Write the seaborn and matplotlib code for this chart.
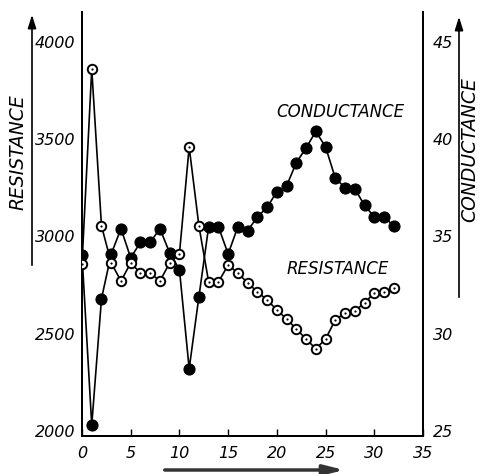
import matplotlib
matplotlib.use("Agg")
import matplotlib.pyplot as plt
import seaborn as sns
import pandas as pd

sns.set_theme(style="white")
plt.rcParams['font.family'] = ['DejaVu Sans']
plt.rcParams['font.style'] = 'italic'
plt.rcParams['text.color'] = 'black'
plt.rcParams['xtick.color'] = 'black'
plt.rcParams['ytick.color'] = 'black'
plt.rcParams['xtick.labelcolor'] = 'black'
plt.rcParams['ytick.labelcolor'] = 'black'

x_vals = list(range(0, 33))
resistance = [2859, 3861, 3054, 2864, 2771, 2864, 2812, 2812, 2771, 2864, 2910,
              3460, 3054, 2766, 2766, 2853, 2812, 2761, 2715, 2674, 2622, 2576,
              2524, 2473, 2422, 2473, 2571, 2607, 2617, 2658, 2710, 2715, 2735]
conductance = [34.05, 25.3, 31.8, 34.1, 35.4, 33.9, 34.7, 34.7, 35.4, 34.15, 33.3,
               28.2, 31.9, 35.5, 35.5, 34.1, 35.5, 35.3, 36.0, 36.5, 37.3, 37.6,
               38.8, 39.55, 40.4, 39.6, 38.0, 37.5, 37.45, 36.6, 36.0, 36.0, 35.55]
x_ticks = [0, 5, 10, 15, 20, 25, 30, 35]
r_ticks = [2000, 2500, 3000, 3500, 4000]
c_ticks = [25, 30, 35, 40, 45]

df = pd.DataFrame({"x": x_vals, "resistance": resistance, "conductance": conductance})

fig = plt.figure(figsize=(4.88, 4.74), dpi=100)
ax = fig.add_axes([82/488, 38/474, (423-82)/488, (436-12)/474])
ax2 = ax.twinx()

# conductance (filled)
sns.lineplot(data=df, x="x", y="conductance", ax=ax2, color="black", lw=1.2,
             marker="o", markersize=8, markerfacecolor="black",
             markeredgecolor="black", sort=False, zorder=3)
# resistance (open with dot)
sns.lineplot(data=df, x="x", y="resistance", ax=ax, color="black", lw=1.2,
             marker="o", markersize=6.8, markerfacecolor="white",
             markeredgecolor="black", markeredgewidth=1.4, sort=False, zorder=3)
sns.scatterplot(data=df, x="x", y="resistance", ax=ax, color="black", s=2.5,
                linewidth=0, zorder=4)

ax.set_zorder(ax2.get_zorder() + 1)
ax.patch.set_visible(False)

ax.set_xlim(0, 35)
ax.set_ylim(1974, 4154)
ax2.set_ylim(24.74, 46.54)

ax.set_xticks(x_ticks)
ax.set_xticklabels([str(t) for t in x_ticks], fontsize=11.5, style='italic')
ax.set_yticks(r_ticks)
ax.set_yticklabels([str(t) for t in r_ticks], fontsize=11.5, style='italic')
ax2.set_yticks(c_ticks)
ax2.set_yticklabels([str(t) for t in c_ticks], fontsize=11.5, style='italic')

ax.tick_params(axis='x', direction='in', length=5, width=1, color='black', pad=7,
               bottom=True)
ax.tick_params(axis='y', length=0, pad=5)
ax2.tick_params(axis='y', length=0, pad=7)

for a in (ax, ax2):
    a.set_xlabel("")
    a.set_ylabel("")
    a.spines['top'].set_visible(False)
    for s in ('left', 'right', 'bottom'):
        a.spines[s].set_color('black')
        a.spines[s].set_linewidth(1.4)
ax.grid(False)
ax2.grid(False)

ax2.text(26.5, 41.4, "CONDUCTANCE", fontsize=12, style='italic',
         ha='center', va='center', color='black')
ax.text(26.2, 2833, "RESISTANCE", fontsize=12, style='italic',
        ha='center', va='center', color='black')

# axis labels with arrows
fig.text(18/488, 1 - 152/474, "RESISTANCE", rotation=90, fontsize=13.5,
         style='italic', ha='center', va='center')
fig.text(470/488, 1 - 150/474, "CONDUCTANCE", rotation=90, fontsize=13.5,
         style='italic', ha='center', va='center')
arrow_kw = dict(arrowstyle="-|>,head_length=0.8,head_width=0.25", color="black", lw=1.2)
fig.add_artist(matplotlib.patches.FancyArrowPatch((32/488, 1 - 268/474), (32/488, 1 - 12/474),
               transform=fig.transFigure, mutation_scale=10, **arrow_kw))
fig.add_artist(matplotlib.patches.FancyArrowPatch((459/488, 1 - 300/474), (459/488, 1 - 14/474),
               transform=fig.transFigure, mutation_scale=10, **arrow_kw))
fig.add_artist(matplotlib.patches.FancyArrowPatch((162/488, 1 - 470/474), (347/488, 1 - 470/474),
               transform=fig.transFigure, mutation_scale=10,
               arrowstyle="-|>,head_length=1.2,head_width=0.3", color="#333333", lw=2.5))

fig.savefig("out.png", dpi=100)
